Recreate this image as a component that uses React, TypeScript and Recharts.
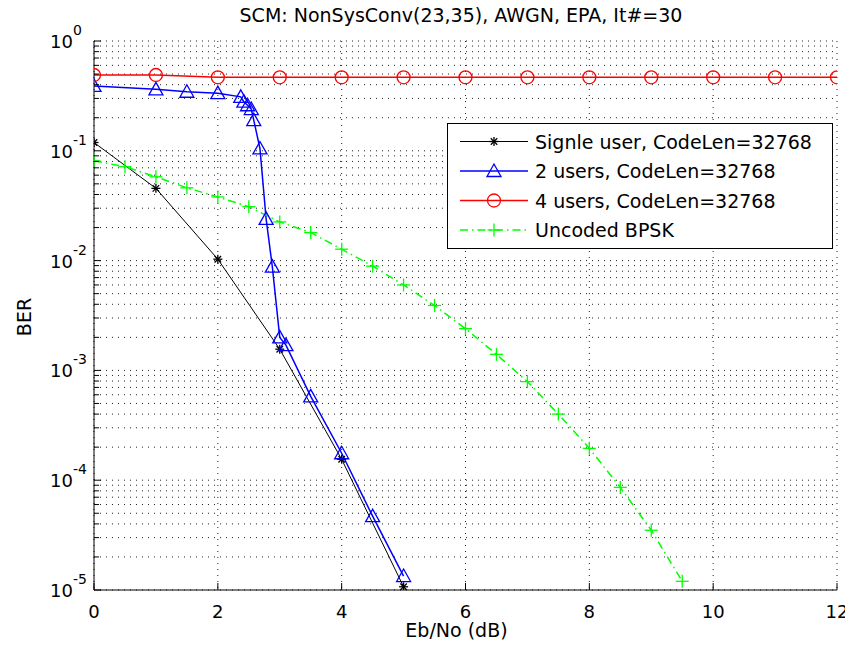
import React from 'react';
import { LineChart, Line, XAxis, YAxis, CartesianGrid, Legend } from 'recharts';

const FONT = '"DejaVu Sans", sans-serif';

const chartTitle = 'SCM: NonSysConv(23,35), AWGN, EPA, It#=30';
const xLabel = 'Eb/No (dB)';
const yLabel = 'BER';

const xTickValues = [0, 2, 4, 6, 8, 10, 12];
const yDecadeExponents = [-5, -4, -3, -2, -1, 0];
const yMinorMultipliers = [2, 3, 4, 5, 6, 7, 8, 9];

const seriesNames = [
  'Signle user, CodeLen=32768',
  '2 users, CodeLen=32768',
  '4 users, CodeLen=32768',
  'Uncoded BPSK',
];
const seriesColors = ['#000000', '#0000ff', '#ff0000', '#00ff00'];
const seriesMarkers = ['star', 'triangle', 'circle', 'plus'];

const singleUserEbNo = [0, 1, 2, 3, 4, 5];
const singleUserBer = [0.119, 0.0455, 0.0103, 0.00156, 0.000155, 0.0000107];

const twoUsersEbNo = [0, 1, 1.5, 2, 2.37, 2.42, 2.48, 2.54, 2.58, 2.68, 2.78, 2.88, 3.0, 3.1, 3.5, 4.0, 4.5, 5.0];
const twoUsersBer = [0.39, 0.363, 0.345, 0.335, 0.31, 0.28, 0.26, 0.24, 0.19, 0.105, 0.024, 0.0088, 0.002, 0.0017, 0.00058, 0.000176, 0.000047, 0.0000134];

const fourUsersEbNo = [0, 1, 2, 3, 4, 5, 6, 7, 8, 9, 10, 11, 12];
const fourUsersBer = [0.49, 0.49, 0.467, 0.467, 0.467, 0.467, 0.467, 0.467, 0.467, 0.467, 0.467, 0.467, 0.467];

const bpskEbNo = [0, 0.5, 1, 1.5, 2, 2.5, 3, 3.5, 4, 4.5, 5, 5.5, 6, 6.5, 7, 7.5, 8, 8.5, 9, 9.5];
const bpskBer = [0.081, 0.0716, 0.058, 0.046, 0.038, 0.031, 0.0225, 0.018, 0.0127, 0.0089, 0.006, 0.0039, 0.0024, 0.0014, 0.00079, 0.0004, 0.000195, 0.000086, 0.000035, 0.000012];

const toRows = (xs: number[], ys: number[]) => xs.map((x, i) => ({ x, y: ys[i] }));
const seriesData = [
  toRows(singleUserEbNo, singleUserBer),
  toRows(twoUsersEbNo, twoUsersBer),
  toRows(fourUsersEbNo, fourUsersBer),
  toRows(bpskEbNo, bpskBer),
];
const seriesWidths = [1, 1.5, 1.5, 1.5];
const seriesDash = [undefined, undefined, undefined, '8 4 1.5 4'];

const yTickValues: number[] = [];
yDecadeExponents.forEach((e) => {
  const base = Math.pow(10, e);
  yTickValues.push(base);
  if (e < 0) yMinorMultipliers.forEach((m) => yTickValues.push(m * base));
});

const isDecade = (v: number) => {
  const e = Math.log10(v);
  return Math.abs(e - Math.round(e)) < 1e-6;
};

const Marker = ({ kind, cx, cy, color }: { kind: string; cx: number; cy: number; color: string }) => {
  if (cx == null || cy == null || isNaN(cx) || isNaN(cy)) return null;
  if (kind === 'star') {
    const r = 4.5;
    const d = r * 0.72;
    return (
      <g stroke={color} strokeWidth={1.3}>
        <line x1={cx - r} x2={cx + r} y1={cy} y2={cy} />
        <line x1={cx} x2={cx} y1={cy - r} y2={cy + r} />
        <line x1={cx - d} x2={cx + d} y1={cy - d} y2={cy + d} />
        <line x1={cx - d} x2={cx + d} y1={cy + d} y2={cy - d} />
      </g>
    );
  }
  if (kind === 'triangle') {
    return (
      <polygon
        points={`${cx},${cy - 7} ${cx - 7},${cy + 5.5} ${cx + 7},${cy + 5.5}`}
        fill="none"
        stroke={color}
        strokeWidth={1.3}
      />
    );
  }
  if (kind === 'circle') {
    return <circle cx={cx} cy={cy} r={6.5} fill="none" stroke={color} strokeWidth={1.3} />;
  }
  const r = 6.5;
  return (
    <g stroke={color} strokeWidth={1.3}>
      <line x1={cx - r} x2={cx + r} y1={cy} y2={cy} />
      <line x1={cx} x2={cx} y1={cy - r} y2={cy + r} />
    </g>
  );
};

const LeftYTick = (props: any) => {
  const { x, y, payload } = props;
  const v = payload.value;
  const major = isDecade(v);
  const e = Math.round(Math.log10(v));
  return (
    <g>
      <line x1={x} x2={x + (major ? 7 : 5)} y1={y} y2={y} stroke="#000" />
      {major && (
        <text x={x - 44} y={y + 7} fontSize={18} fontFamily={FONT} fill="#000">
          10
          <tspan dy={-13} fontSize={14}>{String(e)}</tspan>
        </text>
      )}
    </g>
  );
};

const RightYTick = (props: any) => {
  const { x, y, payload } = props;
  const major = isDecade(payload.value);
  return <line x1={x} x2={x - (major ? 7 : 5)} y1={y} y2={y} stroke="#000" />;
};

const BottomXTick = (props: any) => {
  const { x, y, payload } = props;
  return (
    <g>
      <line x1={x} x2={x} y1={y} y2={y - 7} stroke="#000" />
      <text x={x} y={y + 28} textAnchor="middle" fontSize={18} fontFamily={FONT} fill="#000">
        {payload.value}
      </text>
    </g>
  );
};

const TopXTick = (props: any) => {
  const { x, y } = props;
  return <line x1={x} x2={x} y1={y} y2={y + 7} stroke="#000" />;
};

const LegendBox = () => {
  const w = 385;
  const h = 125;
  const rowY = [18.5, 48, 77.5, 107];
  return (
    <svg width={w + 1} height={h + 1} style={{ display: 'block' }}>
      <rect x={0.5} y={0.5} width={w} height={h} fill="#fff" stroke="#000" strokeWidth={1} />
      {seriesNames.map((name, i) => (
        <g key={name}>
          <line
            x1={13}
            x2={81}
            y1={rowY[i]}
            y2={rowY[i]}
            stroke={seriesColors[i]}
            strokeWidth={seriesWidths[i]}
            strokeDasharray={seriesDash[i]}
          />
          <Marker kind={seriesMarkers[i]} cx={47} cy={rowY[i]} color={seriesColors[i]} />
          <text x={88} y={rowY[i] + 7} fontSize={19} fontFamily={FONT} fill="#000">
            {name}
          </text>
        </g>
      ))}
    </svg>
  );
};

export default function App() {
  return (
    <div style={{ position: 'absolute', left: 0, top: 0, width: 845, height: 650, background: '#fff' }}>
      <LineChart width={845} height={650} margin={{ top: 41, right: 8, bottom: 0, left: 0 }}>
        <CartesianGrid stroke="#222" strokeDasharray="1 5" strokeWidth={1} />
        <XAxis
          dataKey="x"
          type="number"
          domain={[0, 12]}
          ticks={xTickValues}
          interval={0}
          height={60}
          tickSize={0}
          tickMargin={0}
          tick={BottomXTick}
          axisLine={{ stroke: '#000' }}
          allowDataOverflow
        />
        <XAxis
          xAxisId="t"
          orientation="top"
          dataKey="x"
          type="number"
          domain={[0, 12]}
          ticks={xTickValues}
          interval={0}
          height={0}
          tickSize={0}
          tickMargin={0}
          tick={TopXTick}
          axisLine={{ stroke: '#000' }}
          allowDataOverflow
        />
        <YAxis
          type="number"
          scale="log"
          domain={[0.00001, 1]}
          ticks={yTickValues}
          interval={0}
          width={94}
          tickSize={0}
          tickMargin={0}
          tick={LeftYTick}
          axisLine={{ stroke: '#000' }}
          allowDataOverflow
        />
        <YAxis
          yAxisId="r"
          orientation="right"
          type="number"
          scale="log"
          domain={[0.00001, 1]}
          ticks={yTickValues}
          interval={0}
          width={0}
          tickSize={0}
          tickMargin={0}
          tick={RightYTick}
          axisLine={{ stroke: '#000' }}
          allowDataOverflow
        />
        {seriesData.map((rows, i) => (
          <Line
            key={seriesNames[i]}
            data={rows}
            dataKey="y"
            name={seriesNames[i]}
            type="linear"
            stroke={seriesColors[i]}
            strokeWidth={seriesWidths[i]}
            strokeDasharray={seriesDash[i]}
            isAnimationActive={false}
            dot={(p: any) => (
              <Marker key={`m-${i}-${p.index}`} kind={seriesMarkers[i]} cx={p.cx} cy={p.cy} color={seriesColors[i]} />
            )}
            activeDot={false}
          />
        ))}
        <Legend
          layout="vertical"
          align="center"
          verticalAlign="middle"
          wrapperStyle={{ position: 'absolute', left: 447, top: 123, width: 386, height: 126 }}
          content={() => <LegendBox />}
        />
      </LineChart>
      <svg
        width={845}
        height={650}
        style={{ position: 'absolute', left: 0, top: 0, pointerEvents: 'none' }}
      >
        <text x={461} y={22} textAnchor="middle" fontSize={19} fontFamily={FONT} fill="#000">
          {chartTitle}
        </text>
        <text x={456.5} y={637} textAnchor="middle" fontSize={19} fontFamily={FONT} fill="#000">
          {xLabel}
        </text>
        <text
          x={31}
          y={317}
          textAnchor="middle"
          fontSize={19}
          fontFamily={FONT}
          fill="#000"
          transform="rotate(-90 31 317)"
        >
          {yLabel}
        </text>
      </svg>
    </div>
  );
}
